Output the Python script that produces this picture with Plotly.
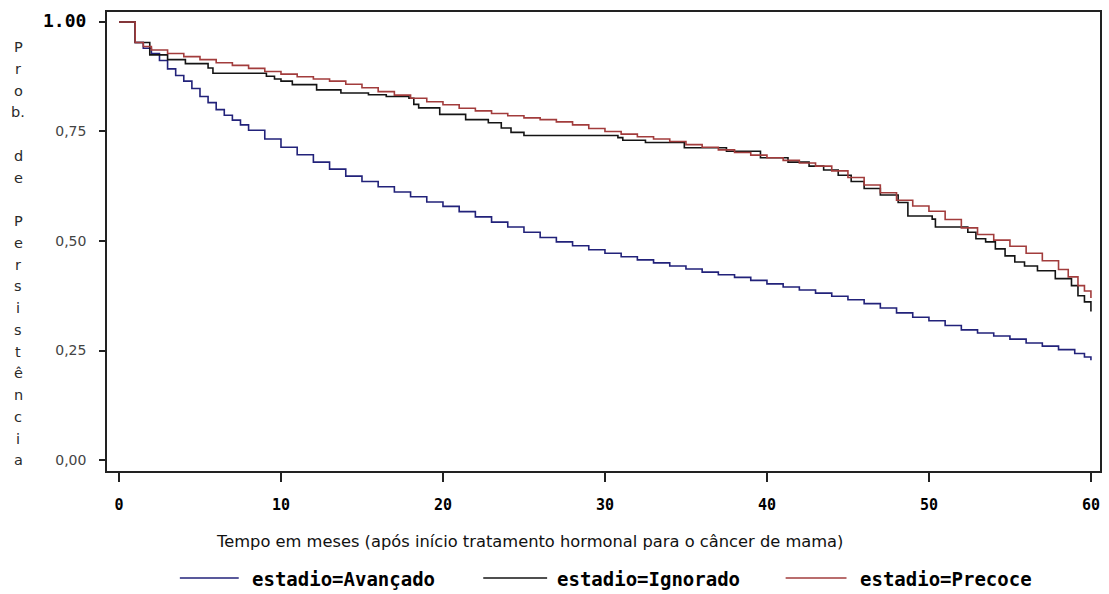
import plotly.graph_objects as go

# Kaplan-Meier estimates of persistence by tumour stage (months 0-60)
tempo_avancado = [0, 1.0, 1.5, 2.0, 2.5, 3.0, 3.5, 4.0, 4.5, 5.0, 5.5, 6.0, 6.5, 7.0, 7.5, 8.0,
                  9.0, 10.0, 11.0, 12.0, 13.0, 14.0, 15.0, 16.0, 17.0, 18.0, 19.0, 20.0,
                  21.0, 22.0, 23.0, 24.0, 25.0, 26.0, 27.0, 28.0, 29.0, 30.0, 31.0, 32.0,
                  33.0, 34.0, 35.0, 36.0, 37.0, 38.0, 39.0, 40.0, 41.0, 42.0, 43.0, 44.0,
                  45.0, 46.0, 47.0, 48.0, 49.0, 50.0, 51.0, 52.0, 53.0, 54.0, 55.0, 56.0,
                  57.0, 58.0, 59.0, 59.6, 60.0]
surv_avancado = [1.0, 0.953, 0.940, 0.928, 0.912, 0.893, 0.878, 0.865, 0.848, 0.830, 0.816,
                 0.800, 0.787, 0.776, 0.765, 0.753, 0.733, 0.714, 0.697, 0.680, 0.664, 0.648,
                 0.636, 0.624, 0.612, 0.601, 0.589, 0.579, 0.567, 0.555, 0.543, 0.532, 0.520,
                 0.508, 0.498, 0.489, 0.480, 0.472, 0.464, 0.457, 0.450, 0.443, 0.436, 0.429,
                 0.423, 0.417, 0.410, 0.402, 0.395, 0.388, 0.381, 0.374, 0.366, 0.357, 0.347,
                 0.336, 0.326, 0.318, 0.307, 0.297, 0.290, 0.283, 0.276, 0.267, 0.260, 0.252,
                 0.243, 0.235, 0.228]

tempo_ignorado = [0, 1.0, 1.9, 3.0, 4.1, 5.5, 5.8, 9.1, 9.6, 10.0, 10.7, 12.2, 13.7, 15.4,
                  16.5, 17.9, 18.2, 18.5, 19.8, 21.4, 22.8, 23.6, 24.2, 25.0, 30.8, 31.1,
                  32.5, 34.9, 37.5, 39.6, 41.3, 42.6, 43.5, 44.4, 45.2, 46.0, 47.0, 48.1,
                  48.7, 50.2, 50.4, 52.4, 52.9, 53.5, 54.1, 54.7, 55.3, 55.9, 56.7, 57.8,
                  58.8, 59.2, 59.6, 60.0]
surv_ignorado = [1.0, 0.953, 0.925, 0.914, 0.905, 0.895, 0.883, 0.876, 0.870, 0.865, 0.857,
                 0.845, 0.838, 0.834, 0.830, 0.826, 0.812, 0.804, 0.789, 0.777, 0.770, 0.758,
                 0.748, 0.741, 0.736, 0.730, 0.725, 0.713, 0.705, 0.690, 0.680, 0.671, 0.662,
                 0.650, 0.636, 0.620, 0.605, 0.588, 0.557, 0.550, 0.532, 0.520, 0.505, 0.498,
                 0.482, 0.466, 0.452, 0.443, 0.432, 0.414, 0.398, 0.375, 0.361, 0.339]

tempo_precoce = [0, 1.0, 1.5, 2.0, 3.0, 4.0, 5.0, 6.0, 7.0, 8.0, 9.0, 10.0, 11.0, 12.0, 13.0,
                 14.0, 15.0, 16.0, 17.0, 18.0, 19.0, 20.0, 21.0, 22.0, 23.0, 24.0, 25.0, 26.0,
                 27.0, 28.0, 29.0, 30.0, 31.0, 32.0, 33.0, 34.0, 35.0, 36.0, 37.0, 38.0, 39.0,
                 40.0, 41.0, 42.0, 43.0, 44.0, 45.0, 46.0, 47.0, 48.0, 49.0, 50.0, 51.0, 52.0,
                 53.0, 54.0, 55.0, 56.0, 57.0, 58.0, 58.6, 59.2, 59.6, 60.0]
surv_precoce = [1.0, 0.953, 0.944, 0.936, 0.928, 0.921, 0.914, 0.907, 0.901, 0.894, 0.887,
                0.881, 0.875, 0.870, 0.865, 0.858, 0.850, 0.841, 0.833, 0.826, 0.818, 0.811,
                0.803, 0.797, 0.791, 0.786, 0.781, 0.777, 0.772, 0.765, 0.757, 0.750, 0.744,
                0.738, 0.733, 0.727, 0.720, 0.714, 0.708, 0.702, 0.696, 0.690, 0.684, 0.678,
                0.671, 0.660, 0.645, 0.628, 0.610, 0.593, 0.580, 0.568, 0.549, 0.530, 0.515,
                0.502, 0.488, 0.472, 0.455, 0.435, 0.418, 0.398, 0.386, 0.370]

x_ticks = [0, 10, 20, 30, 40, 50, 60]
y_ticks = [0.0, 0.25, 0.50, 0.75, 1.00]
y_tick_text = ["0,00", "0,25", "0,50", "0,75",
               '<span style="font-size:18px;font-family:DejaVu Sans Mono;color:#000"><b>1.00</b></span>']

series = [
    ("estadio=Avançado", tempo_avancado, surv_avancado, "#22227a"),
    ("estadio=Ignorado", tempo_ignorado, surv_ignorado, "#141414"),
    ("estadio=Precoce", tempo_precoce, surv_precoce, "#a23c3c"),
]

y_title_chars = ["P", "r", "o", "b.", "", "d", "e", "", "P", "e", "r", "s", "i", "s",
                 "t", "ê", "n", "c", "i", "a"]
x_title = "Tempo em meses (após início tratamento hormonal para o câncer de mama)"

# canvas and plot-area geometry (pixels)
W, H = 1109, 594
ML, MR, MT, MB = 107, 7, 12, 123
PX0, PX1 = ML, W - MR
PY0, PY1 = MT, H - MB


def paper_x(px):
    return (px - PX0) / (PX1 - PX0)


def paper_y(py):
    return (PY1 - py) / (PY1 - PY0)


fig = go.Figure()
for name, t, s, color in series:
    fig.add_trace(go.Scatter(
        x=t, y=s, mode="lines", name=name, showlegend=False,
        line=dict(color=color, width=1.6, shape="hv"),
    ))

annotations = []
shapes = []

# vertical, letter-by-letter y-axis title
for i, ch in enumerate(y_title_chars):
    if not ch:
        continue
    annotations.append(dict(
        x=paper_x(18), y=paper_y(47 + 21.75 * i), xref="paper", yref="paper",
        text=ch, showarrow=False, xanchor="center", yanchor="middle",
        font=dict(family="DejaVu Sans", size=14.5, color="#2a2a2a"),
    ))

# x-axis title
annotations.append(dict(
    x=paper_x(530), y=paper_y(541), xref="paper", yref="paper",
    text=x_title, showarrow=False, xanchor="center", yanchor="middle",
    font=dict(family="DejaVu Sans", size=16.3, color="#111111"),
))

# legend row along the bottom
legend_pos = [(180, 239, 250), (484, 548, 556), (787, 848, 860)]
for (name, _, _, color), (lx0, lx1, tx) in zip(series, legend_pos):
    shapes.append(dict(
        type="line", xref="paper", yref="paper",
        x0=paper_x(lx0), x1=paper_x(lx1), y0=paper_y(578), y1=paper_y(578),
        line=dict(color=color, width=1.6),
    ))
    annotations.append(dict(
        x=paper_x(tx), y=paper_y(579), xref="paper", yref="paper",
        text="<b>" + name + "</b>", showarrow=False, xanchor="left", yanchor="middle",
        font=dict(family="DejaVu Sans Mono", size=19, color="#000000"),
    ))

fig.update_layout(
    width=W, height=H,
    margin=dict(l=ML, r=MR, t=MT, b=MB, pad=0),
    paper_bgcolor="white", plot_bgcolor="white",
    showlegend=False,
    annotations=annotations,
    shapes=shapes,
    xaxis=dict(
        range=[-0.74, 60.56], tickmode="array", tickvals=x_ticks,
        ticktext=["<b>%d</b>" % v for v in x_ticks],
        ticks="outside", ticklen=9, tickwidth=1.5, tickcolor="#222222",
        showline=True, linecolor="#222222", linewidth=1.6, mirror=True,
        showgrid=False, zeroline=False, ticklabelstandoff=10,
        tickfont=dict(family="DejaVu Sans Mono", size=15, color="#000000"),
    ),
    yaxis=dict(
        range=[-0.0251, 1.0228], tickmode="array", tickvals=y_ticks,
        ticktext=y_tick_text,
        ticks="outside", ticklen=6, tickwidth=1.5, tickcolor="#222222",
        showline=True, linecolor="#222222", linewidth=1.6, mirror=True,
        showgrid=False, zeroline=False, ticklabelstandoff=10,
        tickfont=dict(family="DejaVu Sans", size=14, color="#444444"),
    ),
)

fig.write_html("out.html")
